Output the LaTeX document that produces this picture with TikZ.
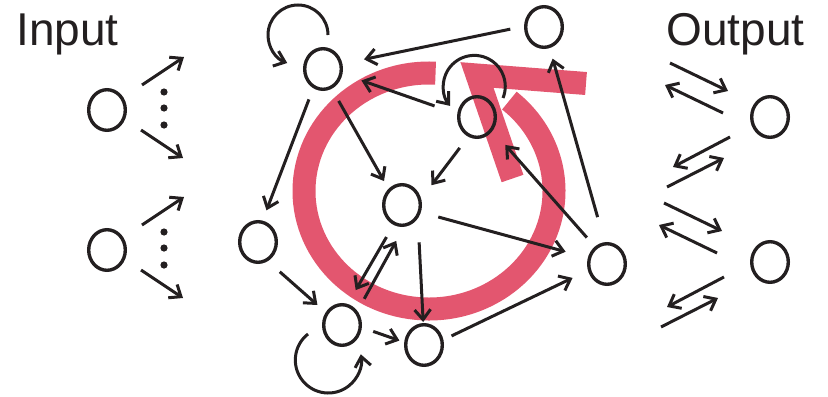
\documentclass[tikz,border=0pt]{standalone}
\usepackage{fontspec}
\setmainfont{Liberation Sans}
\usepackage{tikz}
\usetikzlibrary{arrows.meta,shapes.geometric,calc}
\definecolor{ringpink}{RGB}{227,86,111}
\definecolor{inkblack}{RGB}{35,31,32}

\begin{document}
\begin{tikzpicture}[x=0.5pt, y=0.5pt]
\useasboundingbox (0,0) rectangle (828,-396);
\tikzstyle{unit}=[draw=inkblack, ellipse, line width=1.7pt, minimum width=18.3pt,
  minimum height=20.3pt, inner sep=0pt]
\tikzstyle{tipline}=[-{Straight Barb[length=5pt,width=8pt]}, line width=1.5pt, inkblack]
\tikzstyle{conn}=[tipline, shorten <=7pt, shorten >=7pt]
\tikzstyle{ringline}=[draw=ringpink, line width=11.5pt]
\tikzstyle{title}=[inkblack, font=\fontsize{23}{23}\selectfont, inner sep=0pt, anchor=base west]
% ring with its arrow head, behind everything
\coordinate (ringc) at (429,-191);
\draw[ringline] ([shift={(87:62.5pt and 59pt)}]ringc) arc[start angle=87, end angle=410,
  x radius=62.5pt, y radius=59pt];
\draw[ringline, line join=miter] (586,-83.5) -- (477,-75) -- (512.5,-178.5);
\node[title] (tin) at (16,-45) {Input};
\node[title] (tout) at (666,-45) {Output};
\node[unit] (I1) at (107,-110) {};
\node[unit] (I2) at (107,-250) {};
\node[unit] (A) at (323,-69) {};
\node[unit] (B) at (544,-27) {};
\node[unit] (C) at (477,-117) {};
\node[unit] (D) at (402,-205) {};
\node[unit] (E) at (258,-242) {};
\node[unit] (F) at (342,-325) {};
\node[unit] (G) at (424,-345) {};
\node[unit] (H) at (607,-264) {};
\node[unit] (O1) at (770,-117) {};
\node[unit] (O2) at (770,-262) {};
% input fan out
\foreach \n in {I1,I2}{
  \draw[tipline] ($(\n)+(35,25)$) -- ($(\n)+(77,53)$);
  \draw[tipline] ($(\n)+(34,-20)$) -- ($(\n)+(76,-48)$);
  \foreach \dy in {18,2,-15} \fill[inkblack] ($(\n)+(57,\dy)$) circle (1.8pt);
}
% output arrows
\foreach \n/\sx/\sy in {O1/0/0,O2/-6/5}{
  \draw[tipline] ($(\n)+(-100+\sx,54+\sy)$) -- ($(\n)+(-42+\sx,26+\sy)$);
  \draw[tipline] ($(\n)+(-47+\sx,4+\sy)$) -- ($(\n)+(-105+\sx,32+\sy)$);
  \draw[tipline] ($(\n)+(-40+\sx,-20+\sy)$) -- ($(\n)+(-97+\sx,-50+\sy)$);
  \draw[tipline] ($(\n)+(-103+\sx,-70+\sy)$) -- ($(\n)+(-46+\sx,-41+\sy)$);
}
% reservoir links
\draw[conn, shorten >=11pt] (B.178) -- (A.15);
\draw[conn, shorten <=12pt, shorten >=10pt] (C.171) -- (A.-14);
\draw[conn, shorten >=4.5pt] (A.-66) -- (D.130);
\draw[conn, shorten <=6pt, shorten >=5.5pt] (A.-117) -- (E.78);
\draw[conn, shorten >=8.5pt] (C.-114) -- (D.18);
\draw[conn, shorten <=6pt, shorten >=9.5pt] (H.125) -- (C.-41);
\draw[conn, shorten <=13pt, shorten >=5.5pt] (H.96) -- (B.-75);
\draw[conn, shorten <=9pt, shorten >=11.5pt] (D.-21) -- (H.162);
\draw[conn, shorten >=8pt] (D.-113) -- (F.75);
\draw[conn, shorten >=8pt] (F.42) -- (D.-85);
\draw[conn, shorten <=12pt, shorten >=0.5pt] (D.-40) -- (G.92);
\draw[conn, shorten <=8pt, shorten >=5.5pt] (E.-63) -- (F.142);
\draw[conn, shorten <=6pt, shorten >=2.5pt] (F.-7) -- (G.172);
\draw[conn, shorten <=4.5pt, shorten >=8.5pt] (G.15) -- (H.199);
% self loops
\draw[tipline] ([shift={(5,34)}]A.center) arc[start angle=0, end angle=249, radius=15pt];
\draw[tipline] ([shift={(26,19)}]C.center) arc[start angle=-22, end angle=219, radius=15.5pt];
\draw[tipline] ([shift={(-34,-9)}]F.center) arc[start angle=128, end angle=370, radius=16.5pt];
\end{tikzpicture}
\end{document}
